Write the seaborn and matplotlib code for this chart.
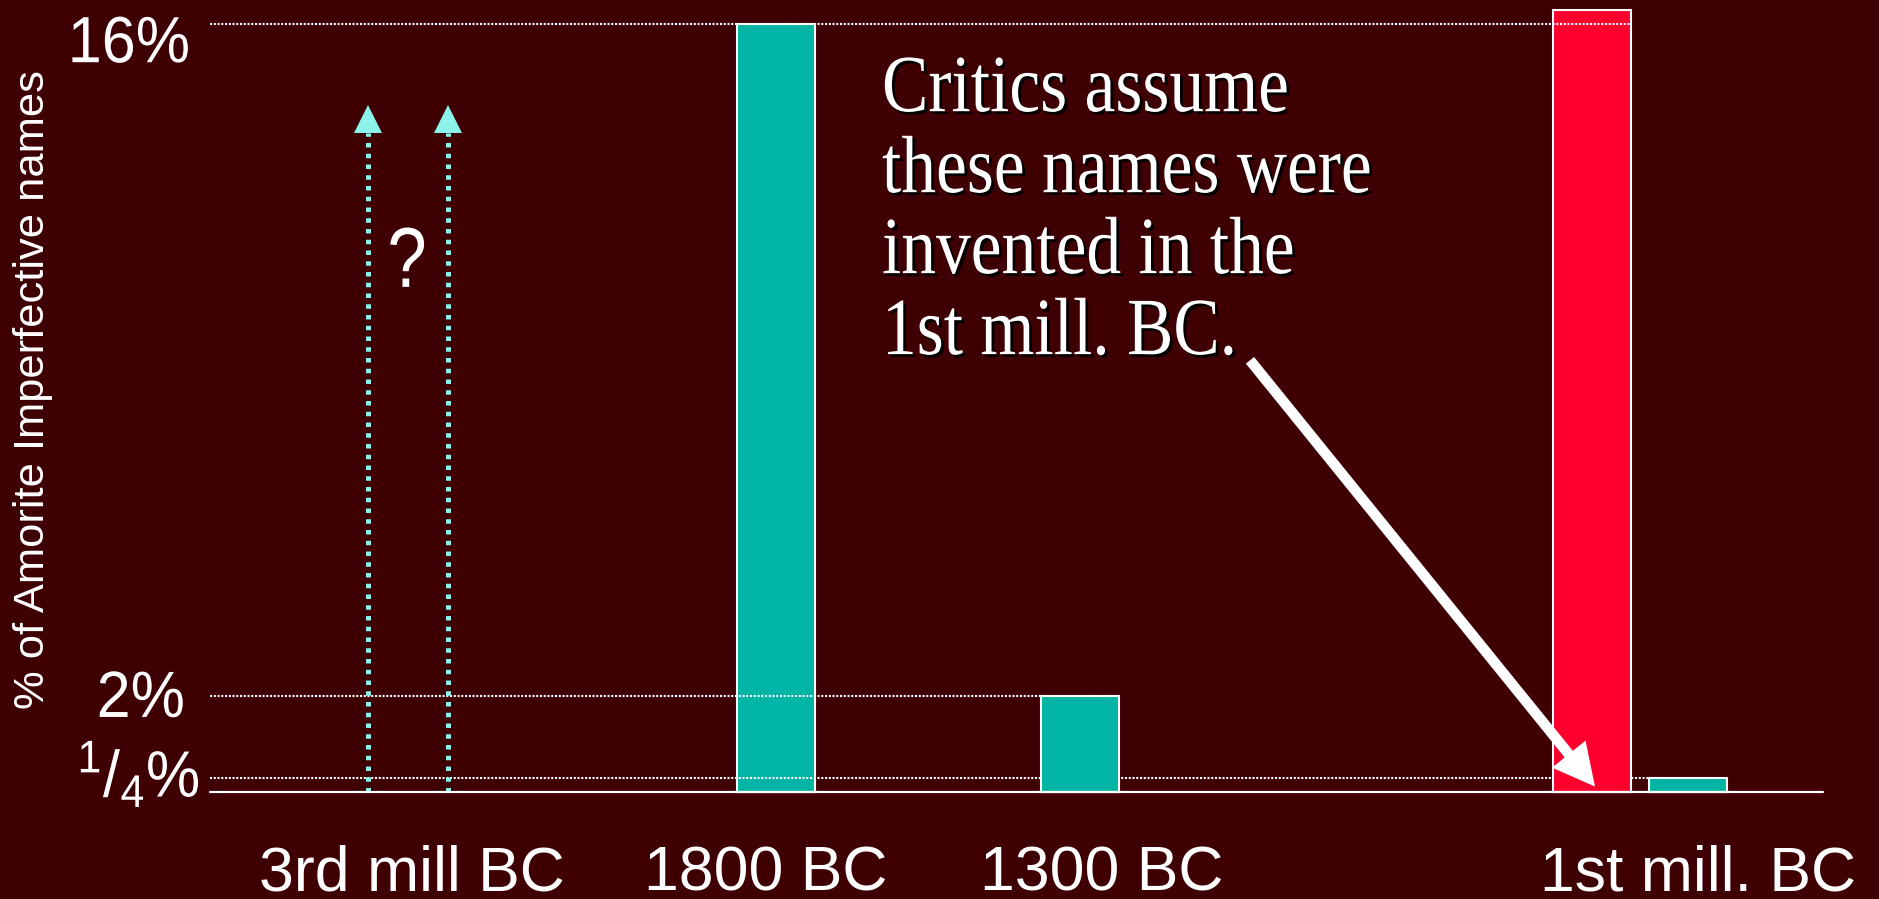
import matplotlib
matplotlib.use('Agg')
import matplotlib.pyplot as plt
import matplotlib.patheffects as pe
from matplotlib.transforms import Affine2D
import seaborn as sns
import pandas as pd

# --- data ---
periods = ['3rd mill BC', '1800 BC', '1300 BC', '1st mill. BC']
bar_period = ['1800 BC', '1300 BC', '1st mill. BC', '1st mill. BC']
bar_series = ['attested', 'attested', 'assumed', 'attested']
bar_values = [16.0, 2.0, 16.3, 0.3]
ref_levels = [16.0, 2.0, 0.3]
ref_labels = ['16%', '2%', r'$\mathregular{^1/_4}$%']
y_title = '% of Amorite Imperfective names'
note_lines = ['Critics assume', 'these names were', 'invented in the', '1st mill. BC.']

# --- layout (x in slide pixels, y in percent) ---
bar_x = [776, 1080, 1592, 1688]
period_x = [412, 766, 1102, 1698]
unknown_x = [368, 448]
ref_end = [1632, 1119, 1660]
ref_label_x = [190, 185, 200]
ref_label_dy = [-0.79, -0.43, -0.40]

BG = '#3f0003'
TEAL = '#00b4a6'
RED = '#ff002e'
CYAN = '#8bf3ea'


class Stretched(pe.AbstractPathEffect):
    # slide text is a bit taller than the font's natural shape
    def __init__(self, sy, inner=None):
        super().__init__()
        self.sy = sy
        self.inner = inner or [pe.Normal()]

    def draw_path(self, renderer, gc, tpath, affine, rgbFace=None):
        aff = Affine2D().scale(1, self.sy) + affine
        for eff in self.inner:
            eff.draw_path(renderer, gc, tpath, aff, rgbFace)


sns.set_theme(style='dark')
plt.rcParams['font.family'] = ['Liberation Sans', 'DejaVu Sans']
plt.rcParams['mathtext.fontset'] = 'custom'
plt.rcParams['mathtext.rm'] = 'Liberation Sans'

W, H = 1879, 899
base_px, px_per_unit = 792.3, 48.0

fig = plt.figure(figsize=(W / 100, H / 100), dpi=100, facecolor=BG)
ax = fig.add_axes([0, 0, 1, 1])
ax.set_facecolor(BG)

df = pd.DataFrame({'x': bar_x, 'period': bar_period,
                   'series': bar_series, 'value': bar_values})
sns.barplot(data=df, x='x', y='value', hue='series',
            palette={'attested': TEAL, 'assumed': RED}, saturation=1,
            native_scale=True, dodge=False, width=77.5 / 96,
            edgecolor='white', linewidth=1.5, legend=False, ax=ax)

for p in ax.patches:
    cx = p.get_x() + p.get_width() / 2
    p.set_zorder(2 if abs(cx - bar_x[0]) < 5 else 4)

ax.set_xlim(0, W)
ax.set_ylim(-(H - base_px) / px_per_unit, base_px / px_per_unit)
ax.set_axis_off()

# reference lines and their labels
for lvl, end, lab, lx, dy in zip(ref_levels, ref_end, ref_labels, ref_label_x, ref_label_dy):
    ax.hlines(lvl, 210, end, colors='white', linewidth=1.5,
              linestyles=(0, (1, 0.8)), zorder=5 if lvl == 16 else 3)
    ax.text(lx, lvl + dy, lab, ha='right', va='baseline', color='white', fontsize=44,
            path_effects=[Stretched(1.07)])

ax.axhline(0, xmin=210 / W, xmax=1823 / W, color='white', linewidth=1.6, zorder=6)

# unknown 3rd millennium values
for x in unknown_x:
    ax.plot([x, x], [0, 13.74], color=CYAN, linewidth=3.6,
            linestyle=(0, (0.9, 1.25)), dash_capstyle='butt', zorder=3)
    ax.plot(x, 14.03, marker='^', markersize=20, markeredgewidth=0, color=CYAN, zorder=3)
ax.text(407, 10.53, '?', ha='center', va='baseline', color='white', fontsize=51,
        path_effects=[Stretched(1.2)])

# category labels
for x, name in zip(period_x, periods):
    ax.text(x, -2.04, name, ha='center', va='baseline', color='white', fontsize=45)

ax.text(33, 8.4, y_title, rotation=90, ha='center', va='center',
        color='white', fontsize=31.3)

# annotation
shadow = [Stretched(1.17, [pe.SimplePatchShadow(offset=(2, -2), shadow_rgbFace='black', alpha=1.0),
                           pe.Normal()])]
for i, line in enumerate(note_lines):
    ax.text(882, 14.19 - i * 1.687, line, ha='left', va='baseline', color='white',
            fontsize=50, family='Liberation Serif', path_effects=shadow, zorder=8)

ax.annotate('', xy=(1595, 0.12), xytext=(1250, 9.0),
            arrowprops=dict(arrowstyle='simple,head_length=3.0,head_width=3.1,tail_width=0.76',
                            mutation_scale=10, color='white', lw=0,
                            shrinkA=0, shrinkB=0),
            zorder=7)

fig.savefig('out.png', dpi=100, facecolor=BG)
